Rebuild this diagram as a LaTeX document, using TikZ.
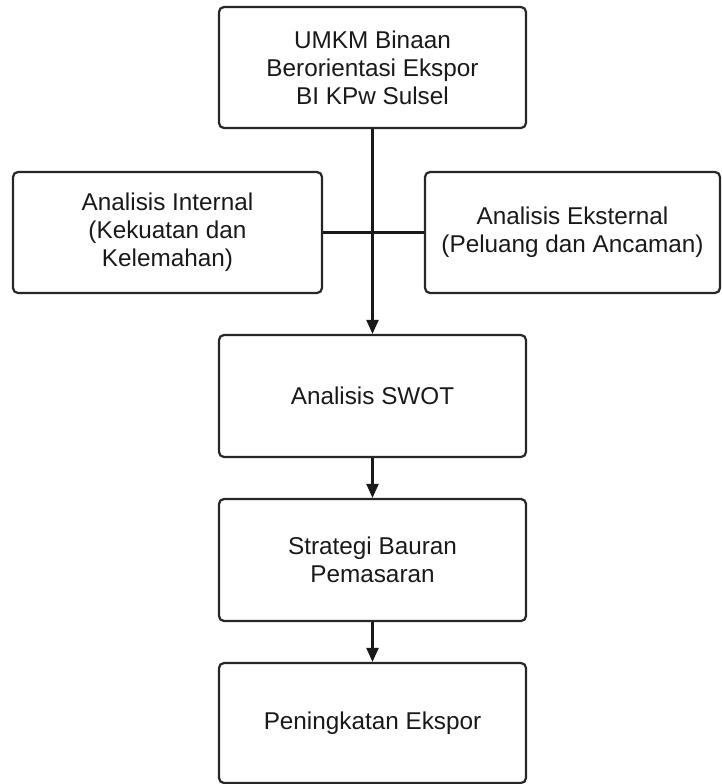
\documentclass[tikz,border=0pt]{standalone}
\usepackage{fontspec}
\setmainfont{Liberation Sans}
\usetikzlibrary{arrows.meta}
\begin{document}
\begin{tikzpicture}[x=1pt,y=-1pt,
  box/.style={draw=black!85, line width=2.2pt, rounded corners=5pt, align=center,
    font=\fontsize{24.3}{28}\selectfont, inner sep=0pt, text=black!90},
  conn/.style={line width=2.2pt, draw=black!90},
  arr/.style={conn, -{Triangle[length=14pt,width=12pt]}}]
\useasboundingbox (0,0) rectangle (721,784);
\node[box, minimum width=307pt, minimum height=121pt] (top) at (372.5,67.5)
  {UMKM Binaan\\Berorientasi Ekspor\\BI KPw Sulsel};
\node[box, minimum width=309pt, minimum height=121pt] (int) at (167.5,232.5)
  {Analisis Internal\\(Kekuatan dan\\Kelemahan)};
\node[box, minimum width=295pt, minimum height=121pt] (ext) at (572.5,232.5)
  {Analisis Eksternal\\(Peluang dan Ancaman)};
\node[box, minimum width=307pt, minimum height=122pt] (swot) at (372.5,396)
  {Analisis SWOT};
\node[box, minimum width=307pt, minimum height=122pt] (strat) at (372.5,560)
  {Strategi Bauran\\Pemasaran};
\node[box, minimum width=307pt, minimum height=120pt] (pen) at (372.5,723)
  {Peningkatan Ekspor};
\draw[conn] (int.east) -- (ext.west);
\draw[arr] (top.south) -- (swot.north);
\draw[arr] (swot.south) -- (strat.north);
\draw[arr] (strat.south) -- (pen.north);
\end{tikzpicture}
\end{document}
